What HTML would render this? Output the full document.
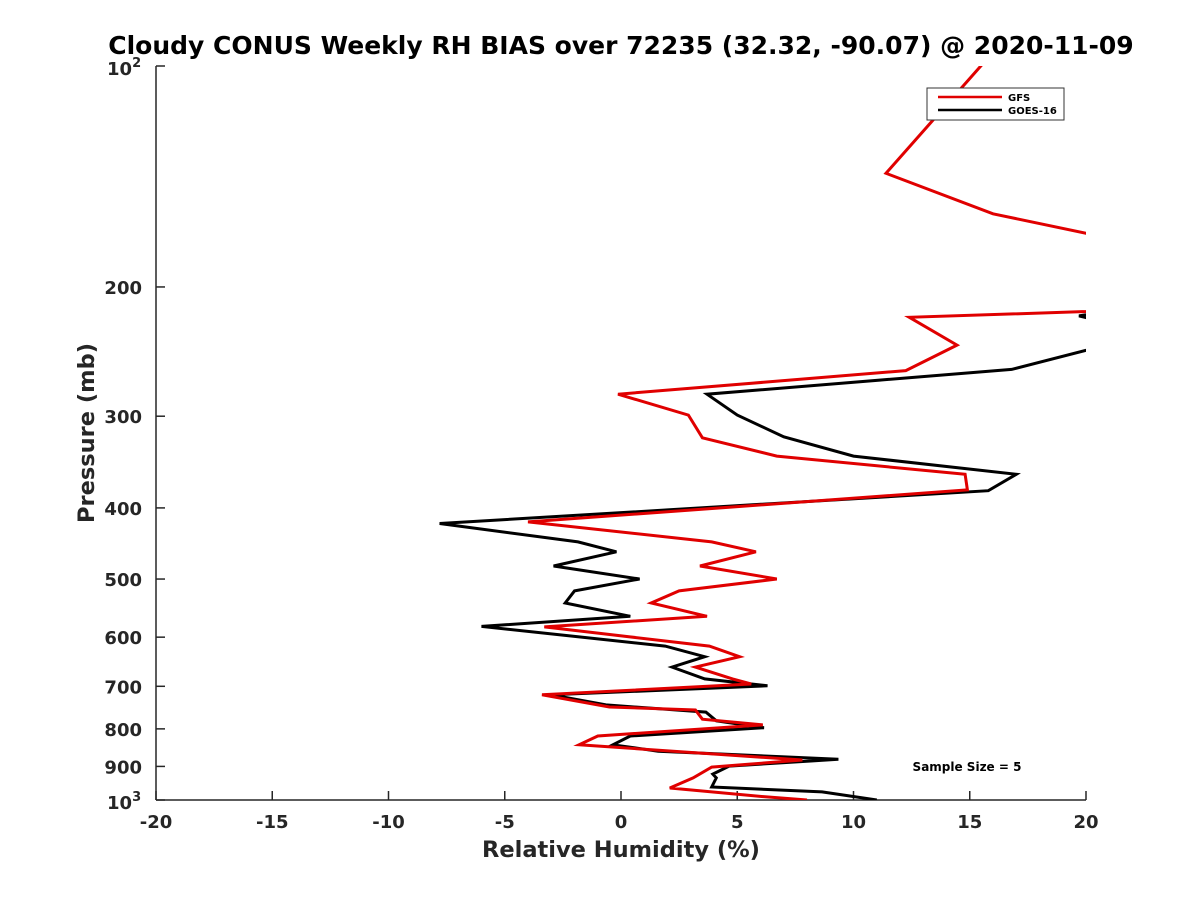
<!DOCTYPE html>
<html><head><meta charset="utf-8"><style>
body{margin:0;background:#fff;}
svg text{font-family:"DejaVu Sans","Liberation Sans",sans-serif;font-weight:bold;}
</style></head><body>
<svg id="chart" width="1200" height="900" xmlns="http://www.w3.org/2000/svg">
<defs><clipPath id="clip"><rect x="156" y="66" width="930" height="734"/></clipPath></defs>
<rect width="1200" height="900" fill="#fff"/>
<text x="621" y="54" font-size="25" text-anchor="middle" fill="#000">Cloudy CONUS Weekly RH BIAS over 72235 (32.32, -90.07) @ 2020-11-09</text>
<g id="axes"></g>
<g id="series" clip-path="url(#clip)"></g>
<g>
<rect x="927" y="88" width="137" height="32" fill="#fff" stroke="#333" stroke-width="1"/>
<line x1="938" y1="97" x2="1002" y2="97" stroke="#e00000" stroke-width="2.5"/>
<text x="1008" y="101" font-size="10" fill="#000">GFS</text>
<line x1="938" y1="110" x2="1002" y2="110" stroke="#000" stroke-width="2.5"/>
<text x="1008" y="114" font-size="10" fill="#000">GOES-16</text>
</g>
<text x="967" y="771" font-size="12" text-anchor="middle" fill="#000">Sample Size = 5</text>
<text x="621" y="857" font-size="22.5" text-anchor="middle" fill="#262626">Relative Humidity (%)</text>
<text transform="translate(94,433) rotate(-90)" font-size="22.5" text-anchor="middle" fill="#262626">Pressure (mb)</text>
</svg>
<script>
const xTicks=[-20,-15,-10,-5,0,5,10,15,20];
const yTicks=[200,300,400,500,600,700,800,900];
const gfsRH=[16.1,11.4,16.0,20,28,28,12.4,14.45,12.25,-0.13,2.9,3.5,6.7,14.8,14.9,-4.0,3.9,5.8,3.4,6.7,2.5,1.3,3.7,-3.3,3.8,5.1,3.2,4.8,5.6,-3.4,-0.5,3.2,3.5,6.1,-1.0,-1.8,7.8,3.9,3.1,2.1,6.2,8.0];
const gfsP=[95,140,159,169,185,212,220,240,260,280,299,321,340,360,378,418,445,459,480,500,519,539,562,581,617,638,659,684,695,719,747,754,776,790,818,841,882,902,933,963,990,1000];
const goesRH=[22,19.7,22,22,16.8,3.7,5.0,7.0,10.0,17.0,15.8,-7.8,-1.85,-0.2,-2.9,0.8,-2.0,-2.4,0.4,-6.0,1.9,3.6,2.2,3.6,6.3,-3.0,-0.65,3.65,4.1,6.15,0.4,-0.35,1.6,9.35,4.65,3.95,4.1,3.9,8.65,11.0];
const goesP=[213,219,228,235,259,280,299,320,340,360,379,420,445,459,480,500,519,539,562,580,617,638,659,684,699,719,742,759,780,797,818,841,858,880,899,922,933,960,975,1000];
const X0=156,X1=1086,Y0=66,Y1=800;
const xs=v=>X0+(v+20)/40*(X1-X0);
const ys=p=>Y0+(Math.log10(p)-2)*(Y1-Y0);
const NS='http://www.w3.org/2000/svg';
const mk=(t,a,p)=>{const e=document.createElementNS(NS,t);for(const k in a)e.setAttribute(k,a[k]);p.appendChild(e);return e;};
const ax=document.getElementById('axes');
let e=mk('line',{x1:X0,y1:Y1,x2:X1,y2:Y1,stroke:'#262626','stroke-width':1.5},ax);


e=mk('line',{x1:X0,y1:Y0,x2:X0,y2:Y1,stroke:'#262626','stroke-width':1.5},ax);


xTicks.forEach(v=>{const x=xs(v);
 mk('line',{x1:x,y1:Y1,x2:x,y2:Y1-9,stroke:'#262626','stroke-width':1.5},ax);
 const t=mk('text',{x:x,y:828,'font-size':18,'text-anchor':'middle',fill:'#262626'},ax);t.textContent=v;
 
 });
[100,1000].concat(yTicks).forEach(p=>{const y=ys(p);
 mk('line',{x1:X0,y1:y,x2:X0+9,y2:y,stroke:'#262626','stroke-width':1.5},ax);});
yTicks.forEach(p=>{const t=mk('text',{x:142,y:ys(p)+7,'font-size':18,'text-anchor':'end',fill:'#262626'},ax);t.textContent=p;
 
 });
[[100,'2'],[1000,'3']].forEach(([p,s])=>{const t=mk('text',{x:107,y:ys(p)+9,'font-size':18,fill:'#262626'},ax);
 t.textContent='10';const sp=mk('tspan',{dy:-8,'font-size':13},t);sp.textContent=s;
 
 });
const sg=document.getElementById('series');
function line(rh,p,c,name){const pts=rh.map((v,i)=>xs(v).toFixed(1)+','+ys(p[i]).toFixed(1)).join(' ');
 const l=mk('polyline',{points:pts,fill:'none',stroke:c,'stroke-width':3,'stroke-linejoin':'miter'},sg);
 
 }
line(goesRH,goesP,'#000','goes16-line');
line(gfsRH,gfsP,'#e00000','gfs-line');
</script>
</body></html>
